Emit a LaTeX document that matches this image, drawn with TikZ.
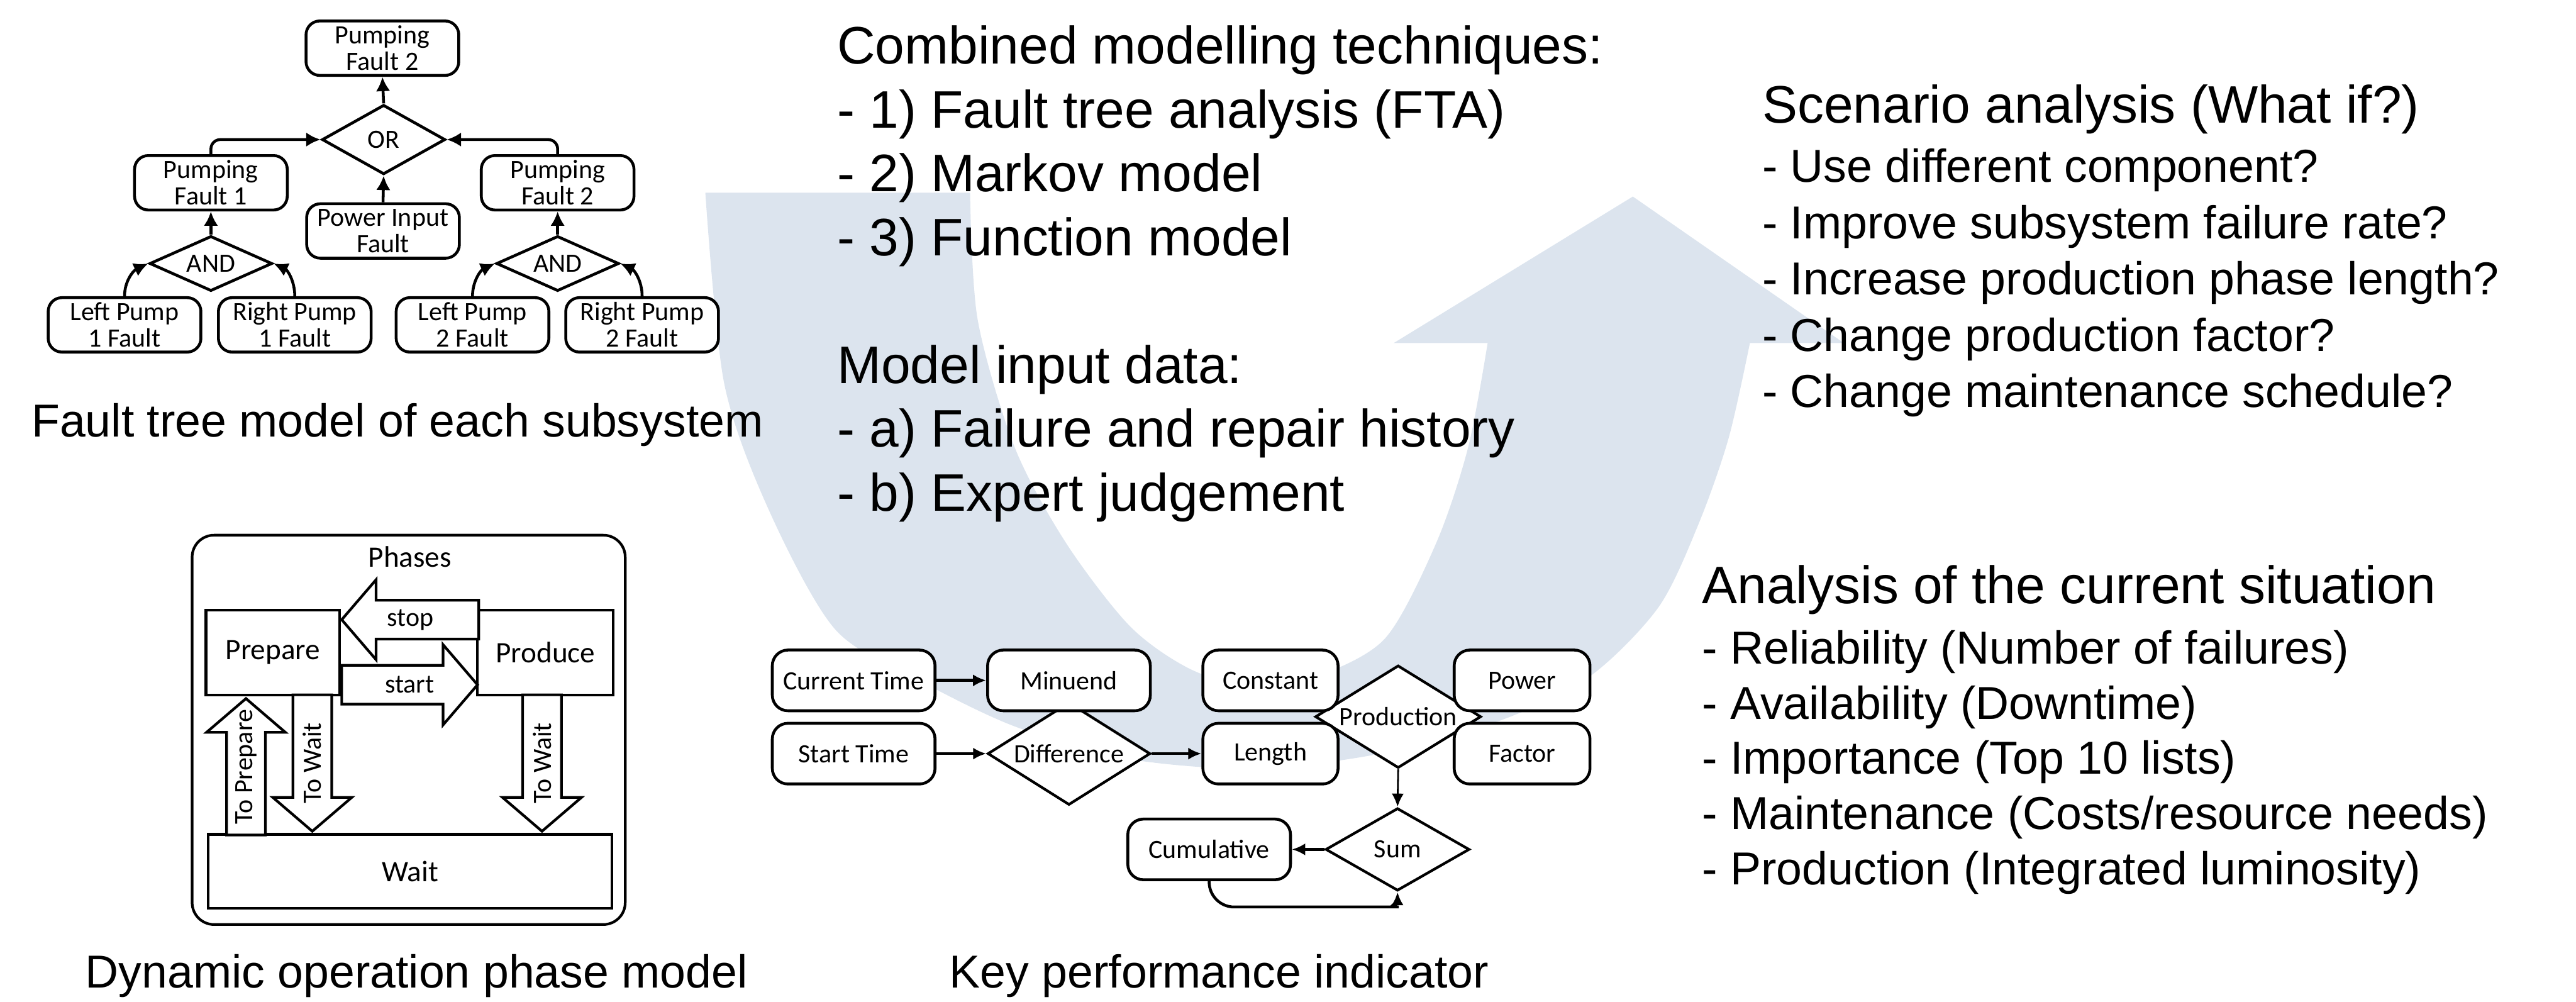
\documentclass[tikz,border=0pt]{standalone}
\usepackage{fontspec}
\setmainfont{Liberation Sans}
\newfontfamily\visioFont{Carlito}
\usetikzlibrary{shapes.geometric,arrows.meta,calc}
\definecolor{flowBlue}{RGB}{220,228,238}

\begin{document}
\begin{tikzpicture}[
  >={Latex[length=6.5pt,width=6.5pt]},
  ftBox/.style={draw,fill=white,line width=1.3pt,rounded corners=0.22cm,minimum width=2.44cm,minimum height=0.87cm,inner sep=0pt,align=center,font=\visioFont\fontsize{12}{12}\selectfont},
  ftGate/.style={diamond,draw,fill=white,line width=1.3pt,inner sep=0pt,font=\visioFont\fontsize{12}{12}\selectfont},
  ftArrow/.style={->,line width=1.3pt},
  phaseBox/.style={draw,fill=white,line width=1.2pt,inner sep=0pt,font=\visioFont\fontsize{13.5}{14}\selectfont},
  phaseArrow/.style={draw,fill=white,line width=1.2pt},
  phaseLbl/.style={inner sep=0pt,font=\visioFont\fontsize{12}{12}\selectfont},
  kpiBox/.style={draw,fill=white,line width=1.3pt,rounded corners=0.25cm,minimum width=2.6cm,minimum height=0.97cm,inner sep=0pt,font=\visioFont\fontsize{12}{12}\selectfont},
  kpiGate/.style={diamond,draw,fill=white,line width=1.2pt,inner sep=0pt,font=\visioFont\fontsize{12}{12}\selectfont},
  kpiArrow/.style={->,line width=1.3pt,>={Latex[length=6pt,width=5.5pt]}},
  headText/.style={anchor=base west,inner sep=0pt,font=\fontsize{24}{28}\selectfont},
  itemText/.style={anchor=base west,inner sep=0pt,font=\fontsize{21}{25}\selectfont},
  capText/.style={anchor=base,inner sep=0pt,font=\fontsize{21}{25}\selectfont}
]
\useasboundingbox (0,0) rectangle (41.16,-16);

% draw the big curved arrow in the background
\fill[flowBlue] (11.27,-3.08) -- (15.50,-3.08)
  -- plot[smooth] coordinates {(15.50,-3.08) (15.62,-5.10) (16.21,-7.14) (17.03,-8.67) (18.05,-10.00) (19.00,-10.68) (20.00,-10.98) (21.00,-10.82) (22.13,-10.20) (22.95,-8.67) (23.46,-7.14) (23.77,-5.48)}
  -- (22.27,-5.48) -- (26.09,-3.14) -- (29.46,-5.48)
  -- plot[smooth] coordinates {(27.96,-5.48) (27.62,-7.00) (27.14,-8.37) (26.50,-9.70) (25.41,-10.80) (24.00,-11.50) (22.00,-12.05) (20.00,-12.28) (18.00,-12.12) (16.20,-11.60) (14.65,-10.85) (13.34,-10.05) (12.29,-8.16) (11.57,-6.12) (11.27,-3.08)}
  -- cycle;

% fault tree of one subsystem
\node[ftBox] (ftTop) at (6.11,-0.77) {Pumping\\Fault 2};
\node[ftGate,aspect=1.77,minimum width=1.97cm,minimum height=1.11cm] (ftOr) at (6.13,-2.23) {OR};
\node[ftBox] (ftPumpA) at (3.37,-2.92) {Pumping\\Fault 1};
\node[ftBox] (ftPumpB) at (8.91,-2.92) {Pumping\\Fault 2};
\node[ftBox] (ftPower) at (6.12,-3.69) {Power Input\\Fault};
\node[ftGate,aspect=2.2,minimum width=1.96cm,minimum height=0.88cm] (ftAndA) at (3.37,-4.21) {AND};
\node[ftGate,aspect=2.2,minimum width=1.96cm,minimum height=0.88cm] (ftAndB) at (8.91,-4.21) {AND};
\foreach \nm/\x/\txt in {ftLeftA/1.99/Left Pump\\1 Fault,ftRightA/4.71/Right Pump\\1 Fault,ftLeftB/7.55/Left Pump\\2 Fault,ftRightB/10.26/Right Pump\\2 Fault}
  \node[ftBox] (\nm) at (\x,-5.19) {\txt};

\draw[ftArrow] (ftOr.north) -- (ftTop.south);
\draw[ftArrow,rounded corners=0.15cm] (ftPumpA.north) |- (ftOr.west);
\draw[ftArrow,rounded corners=0.15cm] (ftPumpB.north) |- (ftOr.east);
\draw[ftArrow] (ftPower.north) -- (ftOr.south);
\draw[ftArrow] (ftAndA.north) -- (ftPumpA.south);
\draw[ftArrow] (ftAndB.north) -- (ftPumpB.south);
\draw[ftArrow] (ftLeftA.north) to[out=90,in=205] (ftAndA.west);
\draw[ftArrow] (ftRightA.north) to[out=90,in=-25] (ftAndA.east);
\draw[ftArrow] (ftLeftB.north) to[out=90,in=205] (ftAndB.west);
\draw[ftArrow] (ftRightB.north) to[out=90,in=-25] (ftAndB.east);

\node[capText] (ftCaption) at (6.35,-6.98) {Fault tree model of each subsystem};

% dynamic operation phases
\node[draw,line width=1.2pt,rounded corners=0.35cm,minimum width=6.92cm,minimum height=6.22cm] (phFrame) at (6.53,-11.66) {};
\node[phaseLbl,font=\visioFont\fontsize{13.5}{14}\selectfont] (phTitle) at (6.55,-8.90) {Phases};
\node[phaseBox,minimum width=2.14cm,minimum height=1.35cm] (prepare) at (4.36,-10.425) {Prepare};
\node[phaseBox,minimum width=2.17cm,minimum height=1.35cm] (produce) at (8.715,-10.425) {Produce};
\node[phaseBox,minimum width=6.45cm,minimum height=1.18cm] (wait) at (6.555,-13.92) {Wait};

% horizontal block arrows: tail x / tip x / centre y / label
\foreach \tl/\tp/\cy/\lbl in {7.65/5.46/-9.90/stop,5.46/7.63/-10.94/start}
{
  \pgfmathsetmacro\hb{\tp-0.55*sign(\tp-\tl)}
  \draw[phaseArrow] (\tl,\cy+0.31) -- (\hb,\cy+0.31) -- (\hb,\cy+0.64) -- (\tp,\cy) -- (\hb,\cy-0.64) -- (\hb,\cy-0.31) -- (\tl,\cy-0.31) -- cycle;
  \node[phaseLbl] (arr-\lbl) at ({(\tl+\tp)/2},\cy) {\lbl};
}
% vertical block arrows: centre x / tail y / tip y / label / name
\foreach \cx/\tl/\tp/\lbl/\nm in {3.93/-13.34/-11.16/To Prepare/toPrep,4.99/-11.10/-13.28/To Wait/toWaitA,8.66/-11.10/-13.28/To Wait/toWaitB}
{
  \pgfmathsetmacro\hb{\tp-0.54*sign(\tp-\tl)}
  \draw[phaseArrow] (\cx-0.31,\tl) -- (\cx-0.31,\hb) -- (\cx-0.63,\hb) -- (\cx,\tp) -- (\cx+0.63,\hb) -- (\cx+0.31,\hb) -- (\cx+0.31,\tl) -- cycle;
  \node[phaseLbl,rotate=90] (\nm) at (\cx,{(\tl+\tp)/2}) {\lbl};
}

\node[capText] (phCaption) at (6.655,-15.78) {Dynamic operation phase model};

% key performance indicator
\node[kpiGate,aspect=1.585,minimum width=2.6cm,minimum height=1.64cm] (difference) at (17.08,-12.04) {Difference};
\node[kpiGate,aspect=1.6,minimum width=2.65cm,minimum height=1.64cm] (production) at (22.34,-11.45) {Production};
\node[kpiGate,aspect=1.74,minimum width=2.30cm,minimum height=1.32cm] (sum) at (22.33,-13.57) {Sum};
\node[kpiBox] (curTime) at (13.64,-10.87) {Current Time};
\node[kpiBox] (startTime) at (13.64,-12.04) {Start Time};
\node[kpiBox] (minuend) at (17.08,-10.87) {Minuend};
\node[kpiBox,minimum width=2.16cm] (constant) at (20.30,-10.87) {Constant};
\node[kpiBox,minimum width=2.16cm] (length) at (20.30,-12.04) {Length};
\node[kpiBox,minimum width=2.17cm] (power) at (24.32,-10.87) {Power};
\node[kpiBox,minimum width=2.17cm] (factor) at (24.32,-12.04) {Factor};
\node[kpiBox] (cumulative) at (19.32,-13.57) {Cumulative};

\draw[kpiArrow] (curTime.east) -- (minuend.west);
\draw[kpiArrow] (startTime.east) -- (difference.west);
\draw[kpiArrow] (difference.east) -- (length.west);
\draw[kpiArrow,line width=0.8pt] (production.south) -- (sum.north);
\draw[kpiArrow] (sum.west) -- (cumulative.east);
\draw[kpiArrow,rounded corners=0.4cm] (cumulative.south) |- (21.95,-14.49) to[out=0,in=-90] (sum.south);

\node[capText] (kpiCaption) at (19.48,-15.78) {Key performance indicator};

% modelling techniques and input data
\def\techItems{{1) Fault tree analysis (FTA)},{2) Markov model},{3) Function model}}
\def\dataItems{{a) Failure and repair history},{b) Expert judgement}}
\node[headText] (techHead) at (13.37,-1.02) {Combined modelling techniques:};
\foreach \txt [count=\ni] in \techItems
  \node[headText] (tech\ni) at (13.37,{-1.02-1.02*\ni}) {- \txt};
\node[headText] (dataHead) at (13.37,-6.12) {Model input data:};
\foreach \txt [count=\ni] in \dataItems
  \node[headText] (data\ni) at (13.37,{-6.12-1.02*\ni}) {- \txt};

% scenario analysis
\def\scenarioItems{{Use different component?},{Improve subsystem failure rate?},{Increase production phase length?},{Change production factor?},{Change maintenance schedule?}}
\node[headText] (scenHead) at (28.15,-1.96) {Scenario analysis (What if?)};
\foreach \txt [count=\ni] in \scenarioItems
  \node[itemText] (scen\ni) at (28.15,{-2.01-0.9*\ni}) {- \txt};

% analysis of the current situation
\def\analysisItems{{Reliability (Number of failures)},{Availability (Downtime)},{Importance (Top 10 lists)},{Maintenance (Costs/resource needs)},{Production (Integrated luminosity)}}
\node[headText] (anaHead) at (27.19,-9.64) {Analysis of the current situation};
\foreach \txt [count=\ni] in \analysisItems
  \node[itemText] (ana\ni) at (27.19,{-9.73-0.88*\ni}) {- \txt};

\end{tikzpicture}
\end{document}
